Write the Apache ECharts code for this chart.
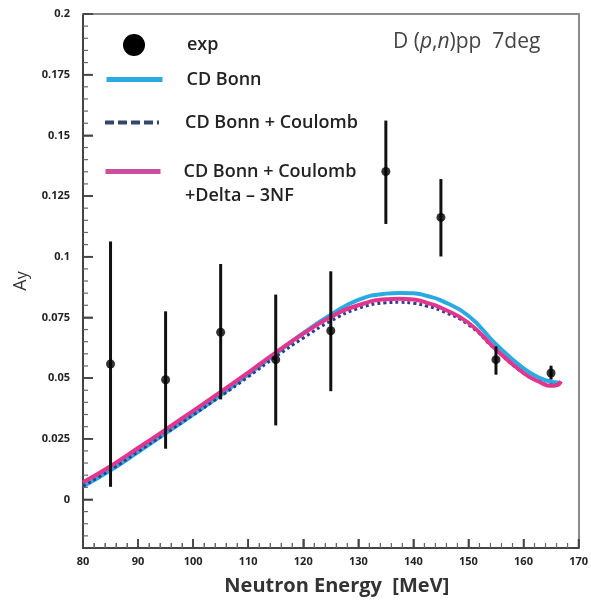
<!DOCTYPE html>
<html>
<head>
<meta charset="utf-8">
<script src="https://cdn.jsdelivr.net/npm/echarts@6/dist/echarts.min.js"></script>
<style>
html,body{margin:0;padding:0;background:#fff;}
#chart{width:591px;height:607px;}
</style>
</head>
<body>
<div id="chart"></div>
<script>
// ---- data ----
var curveX = [80, 85, 90, 95, 100, 105, 110, 115, 120, 125, 130, 135, 137.5, 140, 142.5, 145, 150, 155, 160, 163, 165, 166, 166.8];
var cdBonn = [0.0053, 0.0120, 0.0195, 0.0272, 0.0350, 0.0430, 0.0515, 0.0600, 0.0685, 0.0761, 0.0822, 0.0848, 0.0851, 0.0850, 0.0838, 0.0820, 0.0757, 0.0640, 0.0540, 0.0500, 0.0485, 0.0482, 0.0480];
var cdBonnCoul = [0.0055, 0.0122, 0.0197, 0.0272, 0.0348, 0.0425, 0.0505, 0.0588, 0.0665, 0.0735, 0.0787, 0.0810, 0.0812, 0.0808, 0.0796, 0.0778, 0.0720, 0.0615, 0.0520, 0.0484, 0.0472, 0.0472, 0.0475];
var cdBonnCoulDelta = [0.0071, 0.0137, 0.0212, 0.0288, 0.0365, 0.0443, 0.0523, 0.0605, 0.0683, 0.0752, 0.0800, 0.0825, 0.0827, 0.0824, 0.0810, 0.0790, 0.0728, 0.0618, 0.0521, 0.0483, 0.0468, 0.0470, 0.0487];

var expX  = [85, 95, 105, 115, 125, 135, 145, 155, 165];
var expY  = [0.0558, 0.0493, 0.0689, 0.0576, 0.0695, 0.1351, 0.1162, 0.0576, 0.0521];
var expLo = [0.0052, 0.0209, 0.0412, 0.0305, 0.0446, 0.1135, 0.1001, 0.0514, 0.0494];
var expHi = [0.1063, 0.0775, 0.0970, 0.0844, 0.0940, 0.1561, 0.1320, 0.0631, 0.0551];

// tick values
var xMajorTicks = [80, 90, 100, 110, 120, 130, 140, 150, 160, 170];
var xMinorTicks = [82, 84, 86, 88, 92, 94, 96, 98, 102, 104, 106, 108, 112, 114, 116, 118, 122, 124, 126, 128, 132, 134, 136, 138, 142, 144, 146, 148, 152, 154, 156, 158, 162, 164, 166, 168];
var yMajorTicks = [0, 0.025, 0.05, 0.075, 0.1, 0.125, 0.15, 0.175, 0.2];
var yTickLabels = ['0', '0.025', '0.05', '0.075', '0.1', '0.125', '0.15', '0.175', '0.2'];
var yMinorTicks = [-0.015, -0.01, -0.005, 0.005, 0.01, 0.015, 0.02, 0.03, 0.035, 0.04, 0.045, 0.055, 0.06, 0.065, 0.07, 0.08, 0.085, 0.09, 0.095, 0.105, 0.11, 0.115, 0.12, 0.13, 0.135, 0.14, 0.145, 0.155, 0.16, 0.165, 0.17, 0.18, 0.185, 0.19, 0.195];

var NAME_EXP = 'exp';
var NAME_BONN = 'CD Bonn';
var NAME_COUL = 'CD Bonn + Coulomb';
var NAME_DELTA = 'CD Bonn + Coulomb ';
var DELTA_LINE2 = '+Delta \u2013 3NF';

var X_MIN = 80, X_MAX = 170, Y_MIN = -0.02, Y_MAX = 0.2;

function pairs(xs, ys) { return xs.map(function (x, i) { return [x, ys[i]]; }); }

var FONT = '"Open Sans", "DejaVu Sans", sans-serif';
var chart = echarts.init(document.getElementById('chart'));

function yLabel(v) {
  for (var i = 0; i < yMajorTicks.length; i++) {
    if (Math.abs(yMajorTicks[i] - v) < 1e-9) return yTickLabels[i];
  }
  return '';
}

// tick marks drawn as small rect symbols sitting on the axes (positioned by the axis scales)
function tickSeries(name, data, size, offset, color) {
  return {
    name: name, type: 'scatter', silent: true, clip: false, z: 5,
    symbol: 'rect', symbolSize: size, symbolOffset: offset,
    data: data, itemStyle: { color: color, opacity: 1 },
    emphasis: { disabled: true }
  };
}

var legendText = { fontFamily: FONT, fontSize: 18, fontWeight: 600, color: '#222' };

var option = {
  animation: false,
  title: {
    text: 'D ({i|p},{i|n})pp  7deg',
    left: 393, top: 32, padding: 0,
    textStyle: {
      fontFamily: FONT, fontSize: 21, fontWeight: 'normal', color: '#444',
      rich: { i: { fontFamily: FONT, fontSize: 21, fontStyle: 'italic', color: '#444' } }
    }
  },
  grid: { left: 83, right: 8, top: 14, bottom: 59 },
  legend: [
    {
      data: [NAME_EXP], left: 123, top: 34, padding: 0, icon: 'circle', itemWidth: 22, itemHeight: 22,
      textStyle: Object.assign({ padding: [0, 0, 0, 37] }, legendText)
    },
    {
      data: [NAME_BONN], left: 104, top: 69, padding: 0, itemWidth: 56, itemHeight: 26,
      lineStyle: { width: 5 }, itemStyle: { opacity: 0 },
      textStyle: Object.assign({ padding: [0, 0, 0, 19] }, legendText)
    },
    {
      data: [NAME_COUL], left: 103, top: 112, padding: 0, itemWidth: 54, itemHeight: 26,
      lineStyle: { width: 4, type: [9, 4], color: '#34456e' }, itemStyle: { opacity: 0 },
      textStyle: Object.assign({ padding: [0, 0, 0, 21] }, legendText)
    },
    {
      data: [NAME_DELTA], left: 103, top: 161, padding: 0, itemWidth: 55, itemHeight: 26,
      lineStyle: { width: 5, color: '#cc4f9e' }, itemStyle: { opacity: 0 },
      textStyle: Object.assign({ padding: [0, 0, 0, 18] }, legendText)
    }
  ],
  graphic: [
    {
      type: 'text', left: 185, top: 187,
      style: { text: DELTA_LINE2, fontFamily: FONT, fontSize: 18, fontWeight: 600, fill: '#222' }
    }
  ],
  xAxis: [
    {
      type: 'value', min: X_MIN, max: X_MAX, interval: 10,
      name: 'Neutron Energy  [MeV]', nameLocation: 'middle', nameGap: 28,
      nameTextStyle: { fontFamily: FONT, fontSize: 20, fontWeight: 'bold', color: '#333', padding: [0, 0, 0, 12] },
      axisLine: { show: true, onZero: false, lineStyle: { color: '#444', width: 2 } },
      axisTick: { show: true, inside: true, length: 9, lineStyle: { color: '#444', width: 1.5 } },
      minorTick: { show: true, splitNumber: 5, length: 5, lineStyle: { color: '#666', width: 1 } },
      axisLabel: { fontFamily: FONT, fontSize: 11, fontWeight: 'bold', color: '#222', margin: 8,
        showMaxLabel: true, showMinLabel: true },
      splitLine: { show: false }
    },
    {
      type: 'value', min: X_MIN, max: X_MAX, position: 'top',
      axisLine: { show: true, onZero: false, lineStyle: { color: '#8a8a8a', width: 2 } },
      axisTick: { show: false }, axisLabel: { show: false }, splitLine: { show: false }
    }
  ],
  yAxis: [
    {
      type: 'value', min: Y_MIN, max: Y_MAX,
      name: '{a|A}{b|y}', nameLocation: 'middle', nameGap: 52, nameRotate: 90,
      nameTextStyle: { rich: {
        a: { fontFamily: FONT, fontSize: 18, color: '#333' },
        b: { fontFamily: FONT, fontSize: 16, color: '#333', padding: [4, 0, 0, 0] }
      } },
      axisLine: { show: true, onZero: false, lineStyle: { color: '#444', width: 2 } },
      axisTick: { show: true, inside: true, length: 10, customValues: yMajorTicks, lineStyle: { color: '#444', width: 1.5 } },
      axisLabel: { customValues: yMajorTicks, formatter: yLabel, fontFamily: FONT, fontSize: 11, fontWeight: 'bold', color: '#222', margin: 13 },
      splitLine: { show: false }
    },
    {
      type: 'value', min: Y_MIN, max: Y_MAX, position: 'right',
      axisLine: { show: true, onZero: false, lineStyle: { color: '#8a8a8a', width: 2 } },
      axisTick: { show: false }, axisLabel: { show: false }, splitLine: { show: false }
    }
  ],
  series: [
    tickSeries('xMajorTick', xMajorTicks.map(function (v) { return [v, Y_MIN]; }), [1.6, 9], [0, -4.5], '#444'),
    tickSeries('xMinorTick', xMinorTicks.map(function (v) { return [v, Y_MIN]; }), [1.2, 5], [0, -2.5], '#666'),
    tickSeries('yMajorTick', yMajorTicks.map(function (v) { return [X_MIN, v]; }), [10, 1.6], [5, 0], '#444'),
    tickSeries('yMinorTick', yMinorTicks.map(function (v) { return [X_MIN, v]; }), [5, 1.2], [2.5, 0], '#666'),
    {
      name: NAME_BONN, type: 'line', symbol: 'none', smooth: true, z: 2,
      data: pairs(curveX, cdBonn),
      lineStyle: { color: '#29abe2', width: 4 }, itemStyle: { color: '#29abe2' }
    },
    {
      name: NAME_COUL, type: 'line', symbol: 'none', smooth: true, z: 3,
      data: pairs(curveX, cdBonnCoul),
      lineStyle: { color: '#2f3d8f', width: 3, type: [3, 3] }, itemStyle: { color: '#2f3d8f' }
    },
    {
      name: NAME_DELTA, type: 'line', symbol: 'none', smooth: true, z: 4,
      data: pairs(curveX, cdBonnCoulDelta),
      lineStyle: { color: '#e2368e', width: 4 }, itemStyle: { color: '#e2368e' }
    },
    {
      name: NAME_EXP, type: 'custom', z: 6,
      data: expX.map(function (x, i) { return [x, expLo[i], expHi[i]]; }),
      renderItem: function (params, api) {
        var p1 = api.coord([api.value(0), api.value(1)]);
        var p2 = api.coord([api.value(0), api.value(2)]);
        return { type: 'line', shape: { x1: p1[0], y1: p1[1], x2: p2[0], y2: p2[1] },
          style: { stroke: '#111', lineWidth: 3 } };
      },
      itemStyle: { color: '#000' }
    },
    {
      name: NAME_EXP, type: 'scatter', z: 7, symbol: 'circle', symbolSize: 9,
      data: pairs(expX, expY),
      itemStyle: { color: '#000' }
    }
  ]
};
chart.setOption(option);
</script>
</body>
</html>
